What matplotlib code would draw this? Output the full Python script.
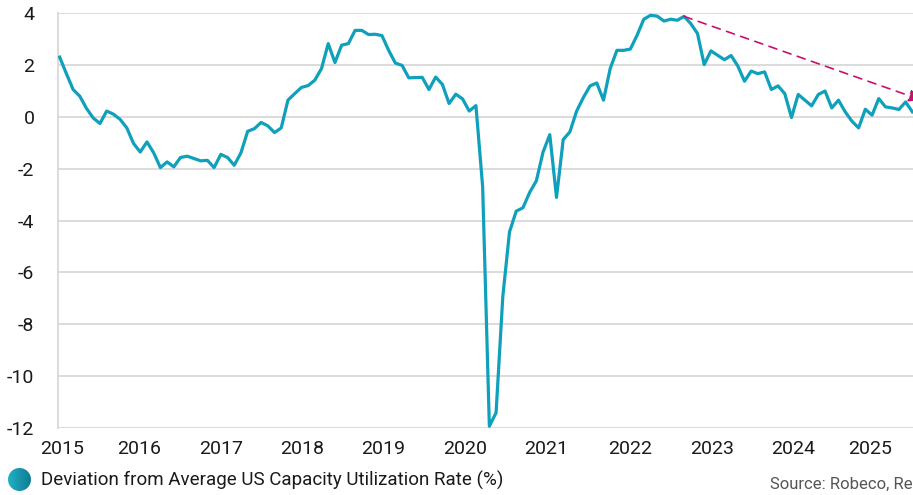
import numpy as np
import pandas as pd
import matplotlib
matplotlib.use('Agg')
import matplotlib.pyplot as plt
from matplotlib.patches import Circle

plt.rcParams['font.family'] = ['Roboto', 'DejaVu Sans']
plt.rcParams['axes.unicode_minus'] = False

# monthly deviation, Jan 2015 - Aug 2025
meses = pd.date_range('2015-01-01', periods=128, freq='MS')
desviacion = [
    2.30, 1.66, 1.05, 0.79, 0.32, -0.05, -0.26, 0.22, 0.10, -0.10, -0.43, -1.03,
    -1.36, -0.97, -1.39, -1.96, -1.74, -1.93, -1.57, -1.52, -1.61, -1.70, -1.68, -1.96,
    -1.45, -1.57, -1.87, -1.39, -0.56, -0.46, -0.22, -0.35, -0.61, -0.43, 0.64, 0.89,
    1.13, 1.20, 1.41, 1.86, 2.82, 2.09, 2.76, 2.82, 3.33, 3.33, 3.17, 3.18,
    3.13, 2.56, 2.07, 1.98, 1.50, 1.51, 1.52, 1.05, 1.53, 1.25, 0.51, 0.87,
    0.69, 0.22, 0.43, -2.70, -11.93, -11.41, -6.94, -4.44, -3.64, -3.51, -2.92, -2.47,
    -1.36, -0.69, -3.11, -0.88, -0.58, 0.22, 0.74, 1.19, 1.30, 0.64, 1.86, 2.56,
    2.56, 2.61, 3.14, 3.76, 3.91, 3.88, 3.69, 3.76, 3.72, 3.87, 3.59, 3.21,
    2.01, 2.54, 2.37, 2.20, 2.36, 1.96, 1.37, 1.76, 1.66, 1.73, 1.05, 1.19,
    0.89, -0.03, 0.86, 0.64, 0.42, 0.86, 0.99, 0.34, 0.64, 0.19, -0.17, -0.43,
    0.29, 0.06, 0.70, 0.38, 0.34, 0.28, 0.57, 0.19,
]
anios = ['2015', '2016', '2017', '2018', '2019', '2020', '2021', '2022', '2023', '2024', '2025']
# trend arrow: from the 2022 peak towards the latest value
flecha_inicio = (93, 3.87)
flecha_fin = (128.3, 0.65)

teal = '#0fa0bb'
magenta = '#c8106e'
gris = '#d9d9d9'

fig = plt.figure(figsize=(9.13, 4.95), dpi=100)
ax = fig.add_axes([58 / 913, 1 - 428 / 495, 1 - 58 / 913, (428 - 13) / 495])

x = np.arange(len(desviacion))
ax.plot(x, desviacion, color=teal, lw=2.3, solid_joinstyle='round', zorder=3)

ax.annotate('', xy=flecha_fin, xytext=flecha_inicio, annotation_clip=False,
            arrowprops=dict(arrowstyle='-|>', color=magenta, lw=1.2,
                            linestyle=(0, (5, 4)), mutation_scale=18,
                            shrinkA=0, shrinkB=0), zorder=4)

ax.set_ylim(-12, 4)
ax.set_yticks(np.arange(-12, 5, 2))
ax.set_xlim(-0.25, 127.1)
posiciones = [0.3, 11.8, 24.0, 36.1, 48.2, 60.4, 72.5, 84.9, 97.1, 109.3, 120.7]
ax.set_xticks(posiciones)
ax.set_xticklabels(anios)
ax.grid(axis='y', color=gris, lw=1.3)
ax.set_axisbelow(True)
for s in ['top', 'right', 'bottom']:
    ax.spines[s].set_visible(False)
ax.spines['left'].set_color(gris)
ax.spines['left'].set_linewidth(1.3)
ax.tick_params(length=0, labelsize=14, colors='#1a1a1a')
ax.tick_params(axis='y', pad=17)
ax.tick_params(axis='x', pad=9)

# legend marker with gradient
lax = fig.add_axes([8 / 913, 1 - 491 / 495, 23 / 913, 23 / 495])
grad = np.linspace(0, 1, 100).reshape(1, -1)
cmap = matplotlib.colors.LinearSegmentedColormap.from_list('t', ['#22b0c6', '#0b7a90'])
im = lax.imshow(grad, cmap=cmap, extent=[0, 1, 0, 1], aspect='auto')
circ = Circle((0.5, 0.5), 0.5, transform=lax.transData)
im.set_clip_path(circ)
lax.set_xlim(0, 1)
lax.set_ylim(0, 1)
lax.axis('off')

fig.text(41 / 913, 1 - 480 / 495, 'Deviation from Average US Capacity Utilization Rate (%)',
         fontsize=13.5, color='#1a1a1a', va='center', ha='left')
fig.text(770 / 913, 1 - 484 / 495, 'Source: Robeco, Refinitiv',
         fontsize=12, color='#555555', va='center', ha='left')

fig.savefig('out.png', dpi=100)
